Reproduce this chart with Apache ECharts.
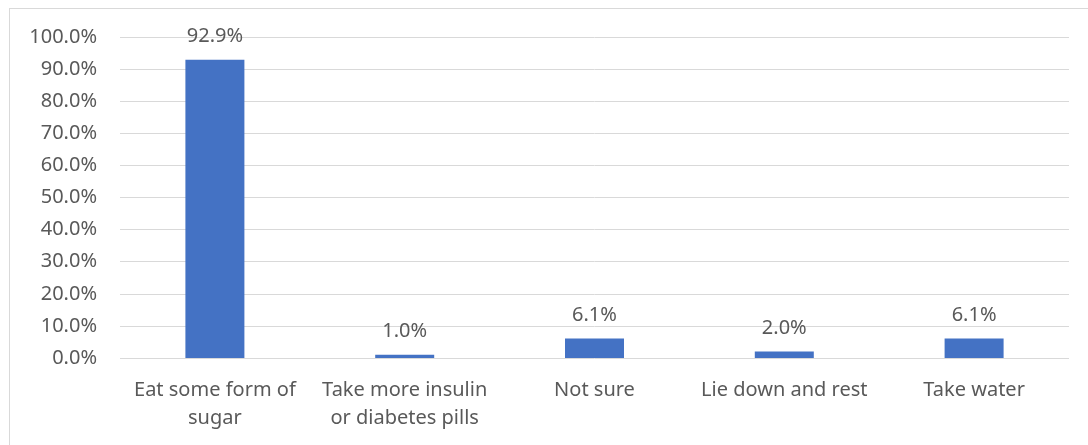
<!DOCTYPE html>
<html>
<head>
<meta charset="utf-8">
<script src="https://cdn.jsdelivr.net/npm/echarts@6/dist/echarts.min.js"></script>
<style>
  html, body { margin: 0; padding: 0; background: #fff; }
  #frame {
    position: absolute; left: 9px; top: 8px; right: 0; bottom: 0;
    border-top: 1px solid #d9d9d9; border-left: 1px solid #d9d9d9;
  }
  #chart { position: absolute; left: 0; top: 0; width: 1088px; height: 445px; }
</style>
</head>
<body>
<div id="frame"></div>
<div id="chart"></div>
<script>
// categories and values (percent)
const categories = [
  'Eat some form of\nsugar',
  'Take more insulin\nor diabetes pills',
  'Not sure',
  'Lie down and rest',
  'Take water'
];
const values = [92.9, 1.0, 6.1, 2.0, 6.1];

const textColor = '#595959';
const fontFamily = '"Noto Sans", sans-serif';

const chart = echarts.init(document.getElementById('chart'));
chart.setOption({
  animation: false,
  grid: { left: 120, right: 19, top: 37, bottom: 87 },
  xAxis: {
    type: 'category',
    data: categories,
    axisLine: { show: false },
    axisTick: { show: false },
    axisLabel: {
      color: textColor,
      fontSize: 20,
      fontFamily: fontFamily,
      lineHeight: 28,
      margin: 18,
      interval: 0
    }
  },
  yAxis: {
    type: 'value',
    min: 0,
    max: 100,
    interval: 10,
    axisLine: { show: false },
    axisTick: { show: false },
    axisLabel: {
      color: textColor,
      fontSize: 20,
      fontFamily: fontFamily,
      margin: 23,
      formatter: v => v.toFixed(1) + '%'
    },
    splitLine: { lineStyle: { color: '#d9d9d9', width: 1 } }
  },
  series: [{
    type: 'bar',
    data: values,
    barWidth: 59,
    itemStyle: { color: '#4472C4' },
    label: {
      show: true,
      position: 'top',
      distance: 13,
      color: textColor,
      fontSize: 20,
      fontFamily: fontFamily,
      formatter: p => p.value.toFixed(1) + '%'
    }
  }]
});
</script>
</body>
</html>
